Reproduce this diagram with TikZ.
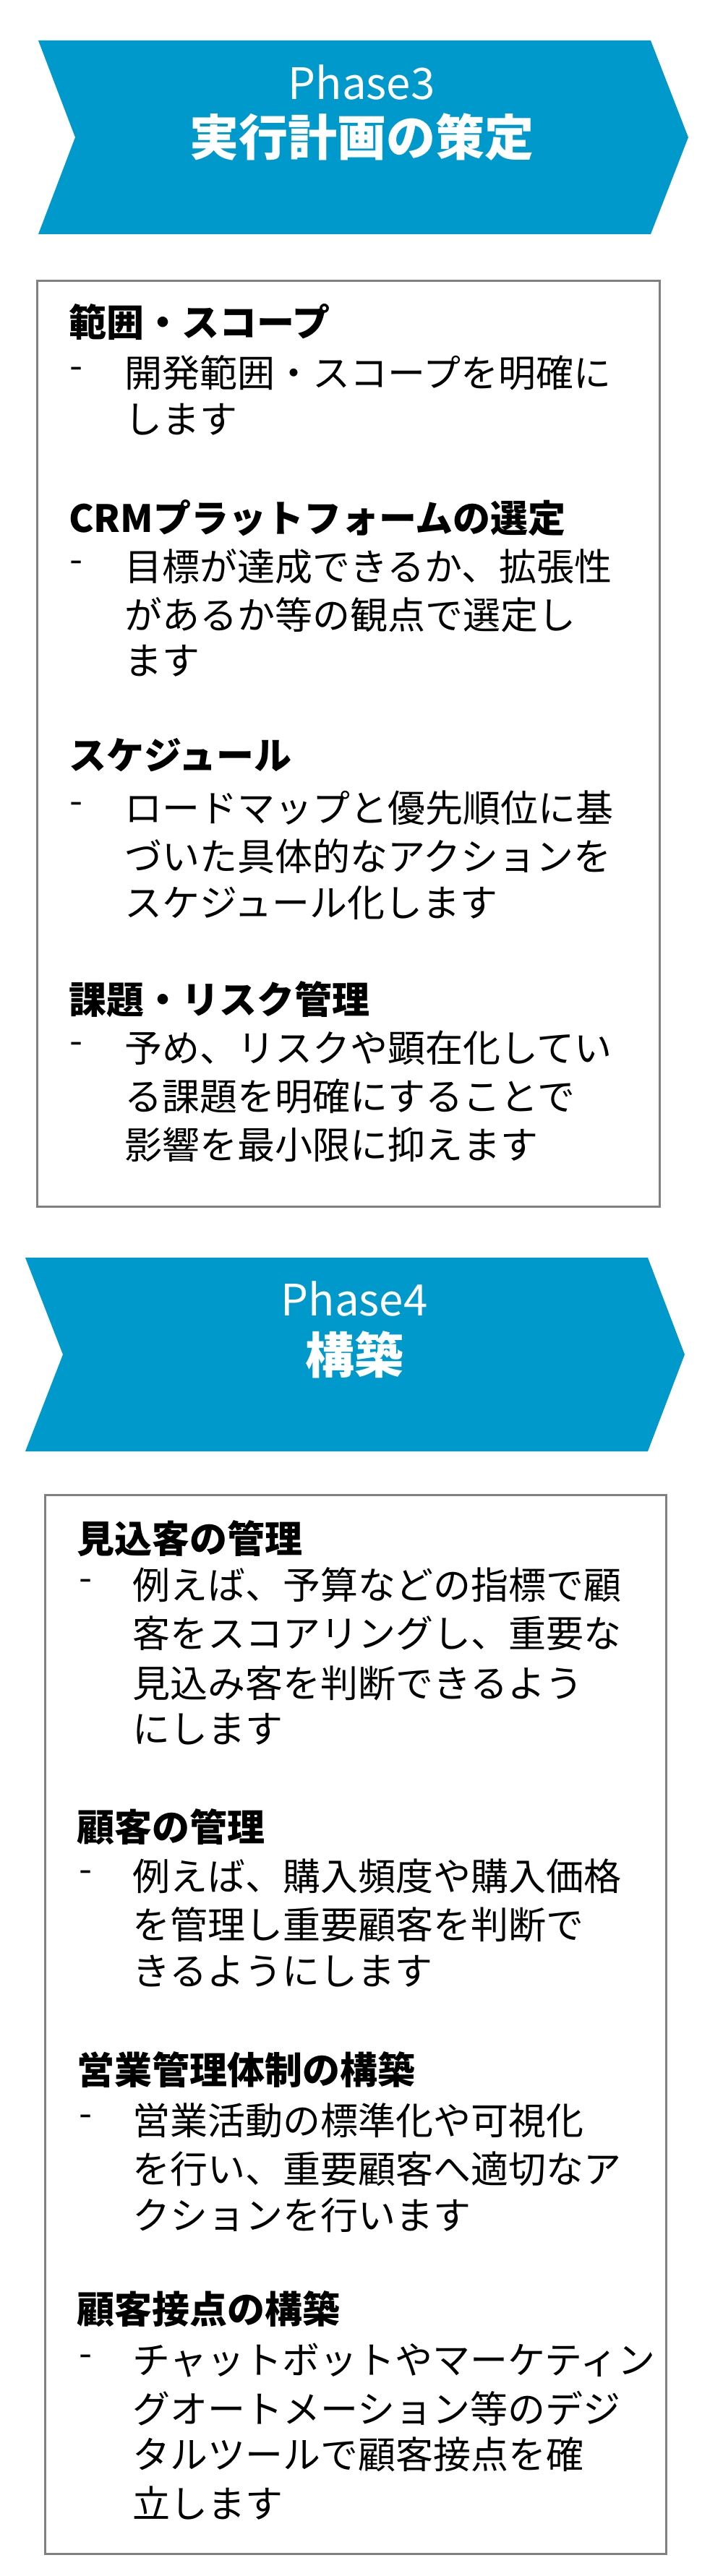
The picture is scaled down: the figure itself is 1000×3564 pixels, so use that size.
\documentclass[tikz,border=0pt]{standalone}
\usepackage{fontspec}
\setmainfont{Noto Sans CJK JP}
\definecolor{phaseblue}{RGB}{0,153,204}
\definecolor{boxgray}{RGB}{128,128,128}
\tikzset{
  banner/.style={fill=phaseblue,draw=none},
  card/.style={draw=boxgray,line width=3pt,fill=white},
  phasetxt/.style={text=white,font=\fontsize{60}{66}\selectfont,inner sep=0pt},
  titletxt/.style={text=white,font=\bfseries\fontsize{68}{74}\selectfont,inner sep=0pt},
  headtxt/.style={anchor=west,font=\bfseries\fontsize{52}{60}\selectfont,inner sep=0pt},
  bodytxt/.style={anchor=west,font=\fontsize{52}{60}\selectfont,inner sep=0pt},
}
\begin{document}
\begin{tikzpicture}[x=1pt,y=-1pt]
\useasboundingbox (0,0) rectangle (1000,3564);
% Phase3 banner
\path[banner] (53,56) -- (900,56) -- (952,190) -- (900,324) -- (53,324) -- (104,190) -- cycle;
\node[phasetxt] (p3) at (500,114) {Phase3};
\node[titletxt] (t3) at (500,190) {実行計画の策定};
% Box 1
\draw[card] (51,388) rectangle (912,1669);
\node[headtxt] (h1) at (95,446) {範囲・スコープ};
\node[bodytxt] (d1) at (96,516) {-};
\node[bodytxt] (b1a) at (172,516) {開発範囲・スコープを明確に};
\node[bodytxt] (b1b) at (172,580) {します};
\node[headtxt] (h2) at (95,717) {CRMプラットフォームの選定};
\node[bodytxt] (d2) at (96,784) {-};
\node[bodytxt] (b2a) at (172,784) {目標が達成できるか、拡張性};
\node[bodytxt] (b2b) at (172,851) {があるか等の観点で選定し};
\node[bodytxt] (b2c) at (172,914) {ます};
\node[headtxt] (h3) at (95,1045) {スケジュール};
\node[bodytxt] (d3) at (96,1118) {-};
\node[bodytxt] (b3a) at (172,1118) {ロードマップと優先順位に基};
\node[bodytxt] (b3b) at (172,1185) {づいた具体的なアクションを};
\node[bodytxt] (b3c) at (172,1249) {スケジュール化します};
\node[headtxt] (h4) at (95,1383) {課題・リスク管理};
\node[bodytxt] (d4) at (96,1450) {-};
\node[bodytxt] (b4a) at (172,1450) {予め、リスクや顕在化してい};
\node[bodytxt] (b4b) at (172,1517) {る課題を明確にすることで};
\node[bodytxt] (b4c) at (172,1584) {影響を最小限に抑えます};
% Phase4 banner
\path[banner] (35,1740) -- (896,1740) -- (947,1874) -- (896,2008) -- (35,2008) -- (87,1874) -- cycle;
\node[phasetxt] (p4) at (490,1797) {Phase4};
\node[titletxt] (t4) at (490,1874) {構築};
% Box 2
\draw[card] (62,2068) rectangle (921,3533);
\node[headtxt] (k1) at (106,2129) {見込客の管理};
\node[bodytxt] (e1) at (109,2193) {-};
\node[bodytxt] (c1a) at (183,2193) {例えば、予算などの指標で顧};
\node[bodytxt] (c1b) at (183,2260) {客をスコアリングし、重要な};
\node[bodytxt] (c1c) at (183,2329) {見込み客を判断できるよう};
\node[bodytxt] (c1d) at (183,2392) {にします};
\node[headtxt] (k2) at (106,2528) {顧客の管理};
\node[bodytxt] (e2) at (109,2596) {-};
\node[bodytxt] (c2a) at (183,2596) {例えば、購入頻度や購入価格};
\node[bodytxt] (c2b) at (183,2663) {を管理し重要顧客を判断で};
\node[bodytxt] (c2c) at (183,2727) {きるようにします};
\node[headtxt] (k3) at (106,2864) {営業管理体制の構築};
\node[bodytxt] (e3) at (109,2934) {-};
\node[bodytxt] (c3a) at (183,2934) {営業活動の標準化や可視化};
\node[bodytxt] (c3b) at (183,3001) {を行い、重要顧客へ適切なア};
\node[bodytxt] (c3c) at (183,3065) {クションを行います};
\node[headtxt] (k4) at (106,3195) {顧客接点の構築};
\node[bodytxt] (e4) at (109,3266) {-};
\node[bodytxt] (c4a) at (183,3266) {チャットボットやマーケティン};
\node[bodytxt] (c4b) at (183,3332) {グオートメーション等のデジ};
\node[bodytxt] (c4c) at (183,3396) {タルツールで顧客接点を確};
\node[bodytxt] (c4d) at (183,3463) {立します};
\end{tikzpicture}
\end{document}
